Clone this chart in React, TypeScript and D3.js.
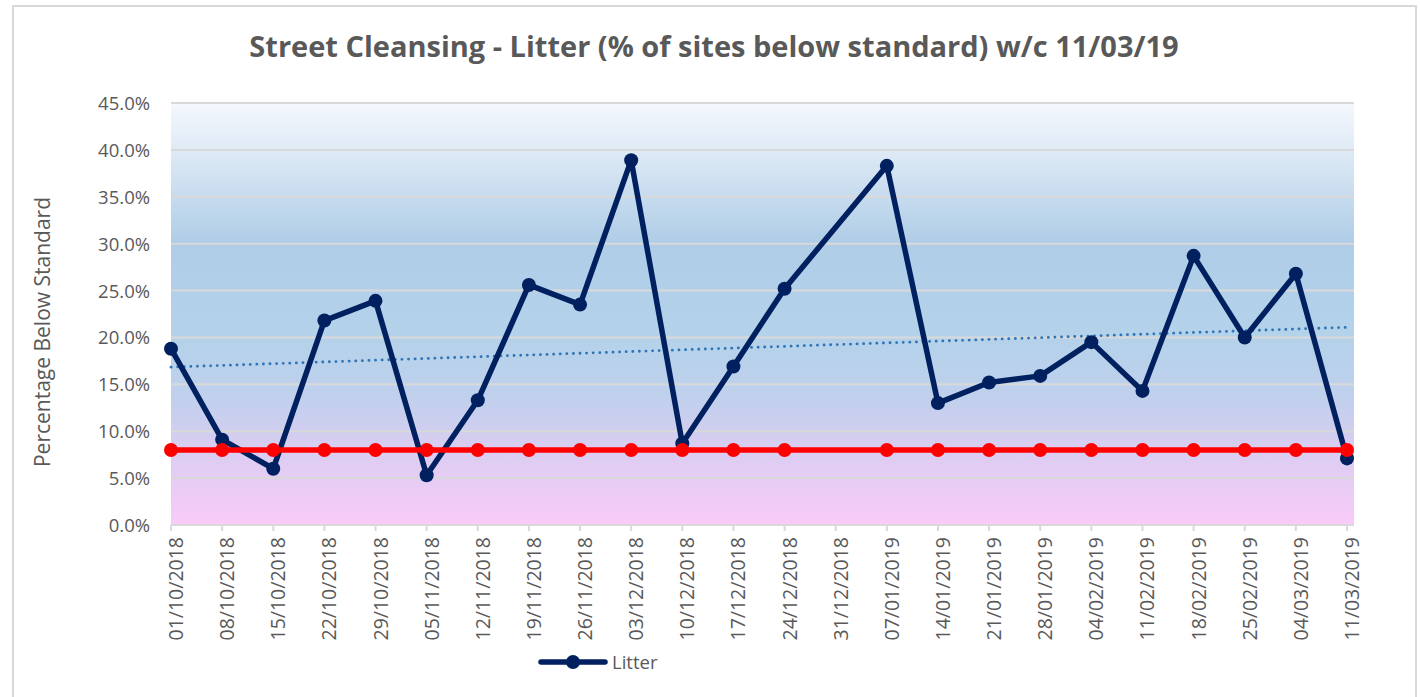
import * as d3 from 'd3';
import { useEffect, useRef } from 'react';

const dates = [
  '01/10/2018', '08/10/2018', '15/10/2018', '22/10/2018', '29/10/2018', '05/11/2018',
  '12/11/2018', '19/11/2018', '26/11/2018', '03/12/2018', '10/12/2018', '17/12/2018',
  '24/12/2018', '31/12/2018', '07/01/2019', '14/01/2019', '21/01/2019', '28/01/2019',
  '04/02/2019', '11/02/2019', '18/02/2019', '25/02/2019', '04/03/2019', '11/03/2019',
];

// % of sites below standard (31/12 has no survey)
const litter = [
  18.8, 9.1, 6.0, 21.8, 23.9, 5.3, 13.3, 25.6, 23.5, 38.9, 8.7, 16.9,
  25.2, null, 38.3, 13.0, 15.2, 15.9, 19.5, 14.3, 28.7, 20.0, 26.8, 7.1,
];

const target = [
  8, 8, 8, 8, 8, 8, 8, 8, 8, 8, 8, 8,
  8, null, 8, 8, 8, 8, 8, 8, 8, 8, 8, 8,
];

const yTicks = [0, 5, 10, 15, 20, 25, 30, 35, 40, 45];

const FONT = '"Open Sans", "Noto Sans", sans-serif';

export default function App() {
  const ref = useRef(null);

  const width = 1420, height = 697;
  const margin = { left: 171, right: 1354, top: 103, bottom: 525 };

  useEffect(() => {
    drawChart();
  }, []);

  function drawChart() {
    const svg = d3.select(ref.current);
    svg.selectAll('*').remove();

    // outer chart border
    svg.append('rect')
      .attr('x', 13).attr('y', 6)
      .attr('width', 1403).attr('height', 720)
      .attr('fill', '#fff')
      .attr('stroke', '#d9d9d9')
      .attr('stroke-width', 2);

    // title
    svg.append('text')
      .attr('x', 714).attr('y', 57)
      .attr('text-anchor', 'middle')
      .style('font-family', FONT)
      .style('font-weight', 'bold')
      .style('font-size', '29px')
      .attr('fill', '#595959')
      .text('Street Cleansing - Litter (% of sites below standard) w/c 11/03/19');

    const x = d3.scalePoint()
      .domain(dates)
      .range([margin.left, 1347]);

    const y = d3.scaleLinear()
      .domain([0, 45])
      .range([margin.bottom, margin.top]);

    // plot area gradient
    const defs = svg.append('defs');
    const grad = defs.append('linearGradient')
      .attr('id', 'plotbg')
      .attr('x1', 0).attr('y1', 0).attr('x2', 0).attr('y2', 1);
    [
      [0, '#f5f8fd'],
      [0.12, '#dde9f5'],
      [0.33, '#afcde7'],
      [0.55, '#b4d2ea'],
      [0.7, '#c0d0ed'],
      [0.82, '#dacdf1'],
      [1, '#f9cbf9'],
    ].forEach(([o, c]) => grad.append('stop').attr('offset', o).attr('stop-color', c));

    svg.append('rect')
      .attr('x', margin.left).attr('y', margin.top)
      .attr('width', margin.right - margin.left)
      .attr('height', margin.bottom - margin.top)
      .attr('fill', 'url(#plotbg)');

    // gridlines
    svg.append('g')
      .selectAll('line')
      .data(yTicks.filter(d => d > 0))
      .enter()
      .append('line')
      .attr('x1', margin.left).attr('x2', margin.right)
      .attr('y1', d => y(d)).attr('y2', d => y(d))
      .attr('stroke', '#d9d9d9')
      .attr('stroke-width', 2);

    // Y axis labels
    svg.append('g')
      .selectAll('text')
      .data(yTicks)
      .enter()
      .append('text')
      .attr('x', 150)
      .attr('y', d => y(d) + 7)
      .attr('text-anchor', 'end')
      .style('font-family', FONT)
      .style('font-size', '18.5px')
      .attr('fill', '#595959')
      .text(d => d3.format('.1f')(d) + '%');

    // Y axis title
    svg.append('text')
      .attr('transform', 'translate(50,332)rotate(-90)')
      .attr('text-anchor', 'middle')
      .style('font-family', FONT)
      .style('font-size', '21px')
      .attr('fill', '#595959')
      .text('Percentage Below Standard');

    // X axis line + ticks
    svg.append('line')
      .attr('x1', margin.left).attr('x2', margin.right)
      .attr('y1', margin.bottom).attr('y2', margin.bottom)
      .attr('stroke', '#d9d9d9')
      .attr('stroke-width', 2);

    svg.append('g')
      .selectAll('line')
      .data(dates)
      .enter()
      .append('line')
      .attr('x1', d => x(d)).attr('x2', d => x(d))
      .attr('y1', margin.bottom).attr('y2', margin.bottom + 6)
      .attr('stroke', '#d9d9d9')
      .attr('stroke-width', 2);

    svg.append('g')
      .selectAll('text')
      .data(dates)
      .enter()
      .append('text')
      .attr('transform', d => 'translate(' + (x(d) + 12) + ',' + (margin.bottom + 12) + ')rotate(-90)')
      .attr('text-anchor', 'end')
      .style('font-family', FONT)
      .style('font-size', '19.5px')
      .attr('fill', '#595959')
      .text(d => d);

    // trendline (least squares over weeks that have a value)
    const pts = litter.map((v, i) => [i, v]).filter(p => p[1] != null);
    const mx = d3.mean(pts, p => p[0]);
    const my = d3.mean(pts, p => p[1]);
    const slope = d3.sum(pts, p => (p[0] - mx) * (p[1] - my)) / d3.sum(pts, p => (p[0] - mx) ** 2);
    const icpt = my - slope * mx;
    const n = dates.length - 1;
    svg.append('line')
      .attr('x1', x(dates[0])).attr('y1', y(icpt))
      .attr('x2', x(dates[n])).attr('y2', y(icpt + slope * n))
      .attr('stroke', '#2e75b6')
      .attr('stroke-width', 2.8)
      .attr('stroke-dasharray', '0.1 6.5')
      .attr('stroke-linecap', 'round');

    const lineGen = d3.line()
      .x(d => x(d.date))
      .y(d => y(d.value));

    const drawSeries = (values, color) => {
      const data = values
        .map((v, i) => ({ date: dates[i], value: v }))
        .filter(d => d.value != null);
      svg.append('path')
        .datum(data)
        .attr('d', lineGen)
        .attr('fill', 'none')
        .attr('stroke', color)
        .attr('stroke-width', 5.5)
        .attr('stroke-linejoin', 'round');
      svg.append('g')
        .selectAll('circle')
        .data(data)
        .enter()
        .append('circle')
        .attr('cx', d => x(d.date))
        .attr('cy', d => y(d.value))
        .attr('r', 7)
        .attr('fill', color);
    };

    drawSeries(litter, '#002060');
    drawSeries(target, '#ff0000');

    // legend
    const lg = svg.append('g');
    lg.append('line')
      .attr('x1', 541).attr('x2', 605)
      .attr('y1', 662).attr('y2', 662)
      .attr('stroke', '#002060')
      .attr('stroke-width', 5.5)
      .attr('stroke-linecap', 'round');
    lg.append('circle')
      .attr('cx', 573).attr('cy', 662).attr('r', 7)
      .attr('fill', '#002060');
    lg.append('text')
      .attr('x', 612).attr('y', 669)
      .style('font-family', FONT)
      .style('font-size', '18.5px')
      .attr('fill', '#595959')
      .text('Litter');
  }

  return (
    <svg
      ref={ref}
      width={width}
      height={height}
      style={{ position: 'absolute', left: 0, top: 0, display: 'block' }}
    />
  );
}
